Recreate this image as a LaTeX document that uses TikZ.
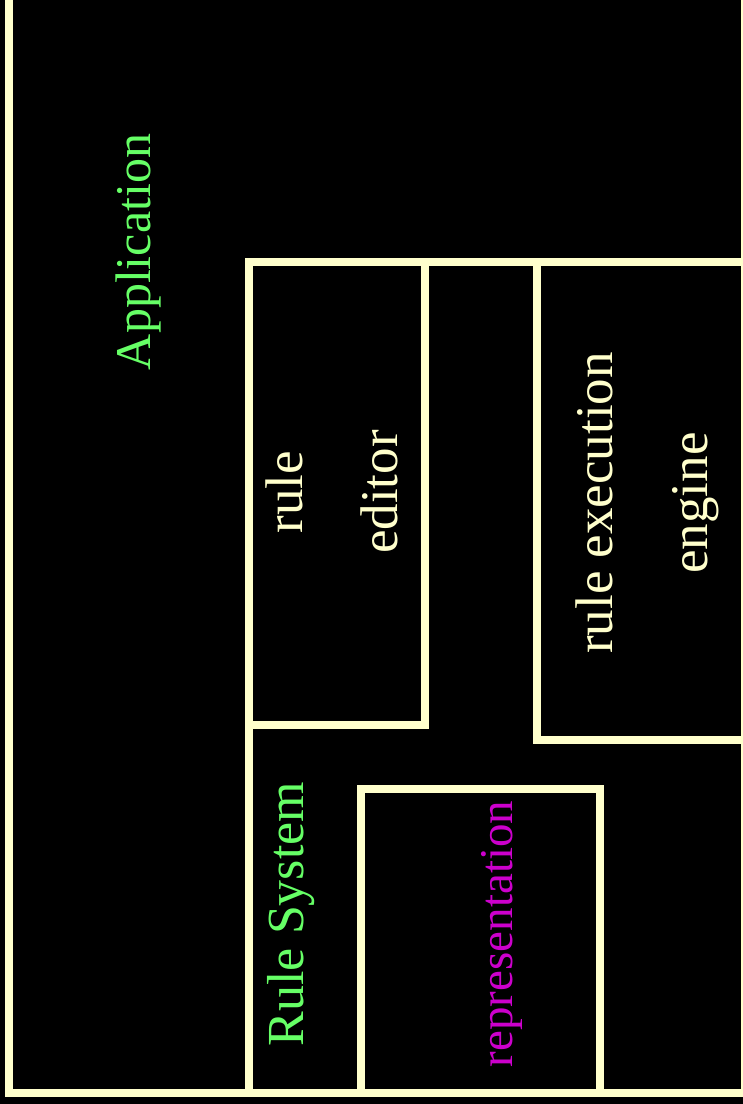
\documentclass[tikz,border=0pt]{standalone}
\usepackage{fontspec}
\setmainfont{Liberation Serif}
\definecolor{paleyellow}{HTML}{FFFFCC}
\definecolor{lightgreen}{HTML}{66FF66}
\definecolor{mag}{HTML}{CC00CC}
\tikzset{
  box/.style={draw=paleyellow, line width=8pt},
  lbl/.style={rotate=90, anchor=base, inner sep=0pt, align=center,
    font=\fontsize{53}{95}\selectfont},
  greenlbl/.style={lbl, text=lightgreen},
  yellowlbl/.style={lbl, text=paleyellow},
}
\begin{document}
\begin{tikzpicture}[x=1pt, y=-1pt]
\useasboundingbox (0,0) rectangle (743,1104);
\fill[black] (0,0) rectangle (743,1104);
\clip (0,0) rectangle (743,1104);
% outer application box
\draw[box] (9,-20) rectangle (745,1093);
% rule system
\draw[box] (249,262) rectangle (745,1093);
% rule editor
\draw[box] (249,262) rectangle (425,725);
% rule execution engine
\draw[box] (537,262) rectangle (745,740);
% representation
\draw[box] (361,789) rectangle (600,1093);
% labels
\node[greenlbl, font=\fontsize{50}{60}\selectfont] (app) at (150,252) {Application};
\node[greenlbl, font=\fontsize{52}{60}\selectfont] (rs) at (303,914) {Rule System};
\node[yellowlbl] (re) at (397,492) {rule\\editor};
\node[yellowlbl] (ree) at (707,503) {rule execution\\engine};
\node[lbl, text=mag, font=\fontsize{47}{60}\selectfont] (rep) at (512,934) {representation};
\end{tikzpicture}
\end{document}
